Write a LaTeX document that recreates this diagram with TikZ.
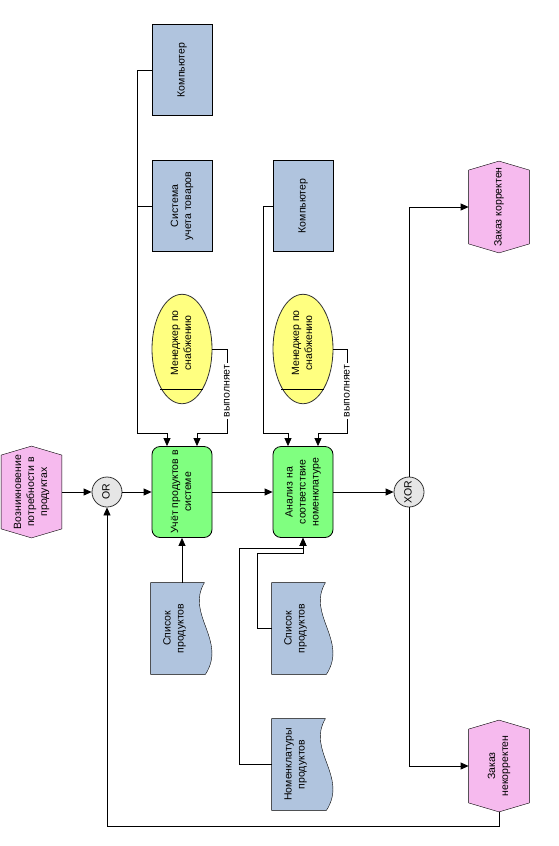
\documentclass[tikz,border=0pt]{standalone}
\usepackage{fontspec}
\setmainfont{Liberation Sans}
\usepackage{graphicx}
\usepackage{tikz}
\usetikzlibrary{shapes.geometric,arrows.meta,backgrounds}

\definecolor{evpink}{RGB}{246,186,238}
\definecolor{fngreen}{RGB}{128,255,128}
\definecolor{sysblue}{RGB}{176,196,222}
\definecolor{orgyellow}{RGB}{255,255,128}
\definecolor{opgray}{RGB}{230,230,230}

\newcommand{\vtext}[1]{\rotatebox{90}{\begin{tabular}{@{}c@{}}#1\end{tabular}}}

\begin{document}
\begin{tikzpicture}[x=1pt,y=-1pt,line width=0.8pt,>={Triangle[length=8pt,width=7pt]},
    font=\fontsize{10.5}{13}\selectfont,
    every node/.style={inner sep=0pt},
    box/.style={rectangle,minimum width=60pt,minimum height=91pt},
    fn/.style={box,rounded corners=8pt,draw,fill=fngreen},
    sys/.style={box,draw,fill=sysblue},
    evt/.style={box},
    doc/.style={box,minimum width=47pt},
    org/.style={ellipse,draw=black!80,fill=orgyellow,minimum width=60pt,minimum height=106pt},
    op/.style={circle,draw=black!80,fill=opgray,minimum size=30pt},
    lbl/.style={fill=white,inner sep=1.5pt}]
    \useasboundingbox (0,0) rectangle (558,846);

    % main chain
    \node[evt] (ev1) at (31.5,492) {\vtext{Возникновение\\потребности в\\продуктах}};
    \node[op] (or1) at (107,492) {\vtext{OR}};
    \node[fn] (fn1) at (182,492) {\vtext{Учёт продуктов в\\системе}};
    \node[fn] (fn2) at (303,492) {\vtext{Анализ на\\соответствие\\номенклатуре}};
    \node[op] (xor1) at (409,492) {\vtext{XOR}};
    \node[evt] (ev2) at (499,207) {\vtext{Заказ корректен}};
    \node[evt] (ev3) at (499,766) {\vtext{Заказ\\некорректен}};

    % resources
    \node[sys] (pc1) at (182,70) {\vtext{Компьютер}};
    \node[sys] (sw1) at (182,206) {\vtext{Система\\учета товаров}};
    \node[sys] (pc2) at (303,206) {\vtext{Компьютер}};
    \node[org] (mg1) at (182,349) {\vtext{Менеджер по\\снабжению}\rule[-12pt]{0pt}{12pt}};
    \node[org] (mg2) at (303,349) {\vtext{Менеджер по\\снабжению}\rule[-12pt]{0pt}{12pt}};
    \node[doc] (ls1) at (174.5,628.5) {\vtext{Список\\продуктов}};
    \node[doc] (ls2) at (295.5,628.5) {\vtext{Список\\продуктов}};
    \node[doc] (nm1) at (295.5,764.5) {\vtext{Номенклатуры\\продуктов}};

    \coordinate (jn1) at (137,433);
    \coordinate (jn2) at (227,433);
    \coordinate (jn3) at (263,433);
    \coordinate (jn4) at (347,433);
    \coordinate (jn5) at (257,553);
    \coordinate (jn6) at (239,548);

    \begin{scope}[on background layer]
      \foreach \e in {ev1,ev2,ev3}
        \filldraw[fill=evpink] ([yshift=-9pt]\e.north west) -- (\e.north) -- ([yshift=-9pt]\e.north east)
          -- ([yshift=9pt]\e.south east) -- (\e.south) -- ([yshift=9pt]\e.south west) -- cycle;
      \foreach \d in {ls1,ls2,nm1}
        \filldraw[fill=sysblue] (\d.north west) -- ([xshift=6pt]\d.north east)
          .. controls ([xshift=-13pt,yshift=-32pt]\d.north east) and ([xshift=29pt,yshift=34pt]\d.south east)
          .. ([xshift=7pt]\d.south east) -- (\d.south west) -- cycle;
    \end{scope}
    \draw ([xshift=-22pt,yshift=-40pt]mg1.center) -- ([xshift=21pt,yshift=-40pt]mg1.center);
    \draw ([xshift=-22pt,yshift=-40pt]mg2.center) -- ([xshift=21pt,yshift=-40pt]mg2.center);

    \draw[->] (ev1) -- (or1);
    \draw[->] (or1) -- (fn1);
    \draw[->] (fn1) -- (fn2);
    \draw[->] (fn2) -- (xor1);
    \draw[->] (xor1) |- (ev2);
    \draw[->] (xor1) |- (ev3);
    \draw[->] (ev3.south) -- ++(0,14) -| (or1);

    \draw[->] (pc1.west) -| (jn1) -| ([xshift=-15pt]fn1.north);
    \draw (sw1.west) -- (sw1.west -| jn1);
    \draw[->] (mg1.east) -| node[lbl,pos=0.75] (vp1) {\vtext{выполняет}} (jn2) -| ([xshift=15pt]fn1.north);
    \draw[->] (pc2.west) -| (jn3) -| ([xshift=-15pt]fn2.north);
    \draw[->] (mg2.east) -| node[lbl,pos=0.75] (vp2) {\vtext{выполняет}} (jn4) -| ([xshift=15pt]fn2.north);

    \draw[->] (ls1.north -| fn1) -- (fn1);
    \draw[->] (ls2.west) -| (jn5) -| (fn2.south);
    \draw[->] (nm1.west) -| (jn6) -| (fn2.south);
\end{tikzpicture}
\end{document}
